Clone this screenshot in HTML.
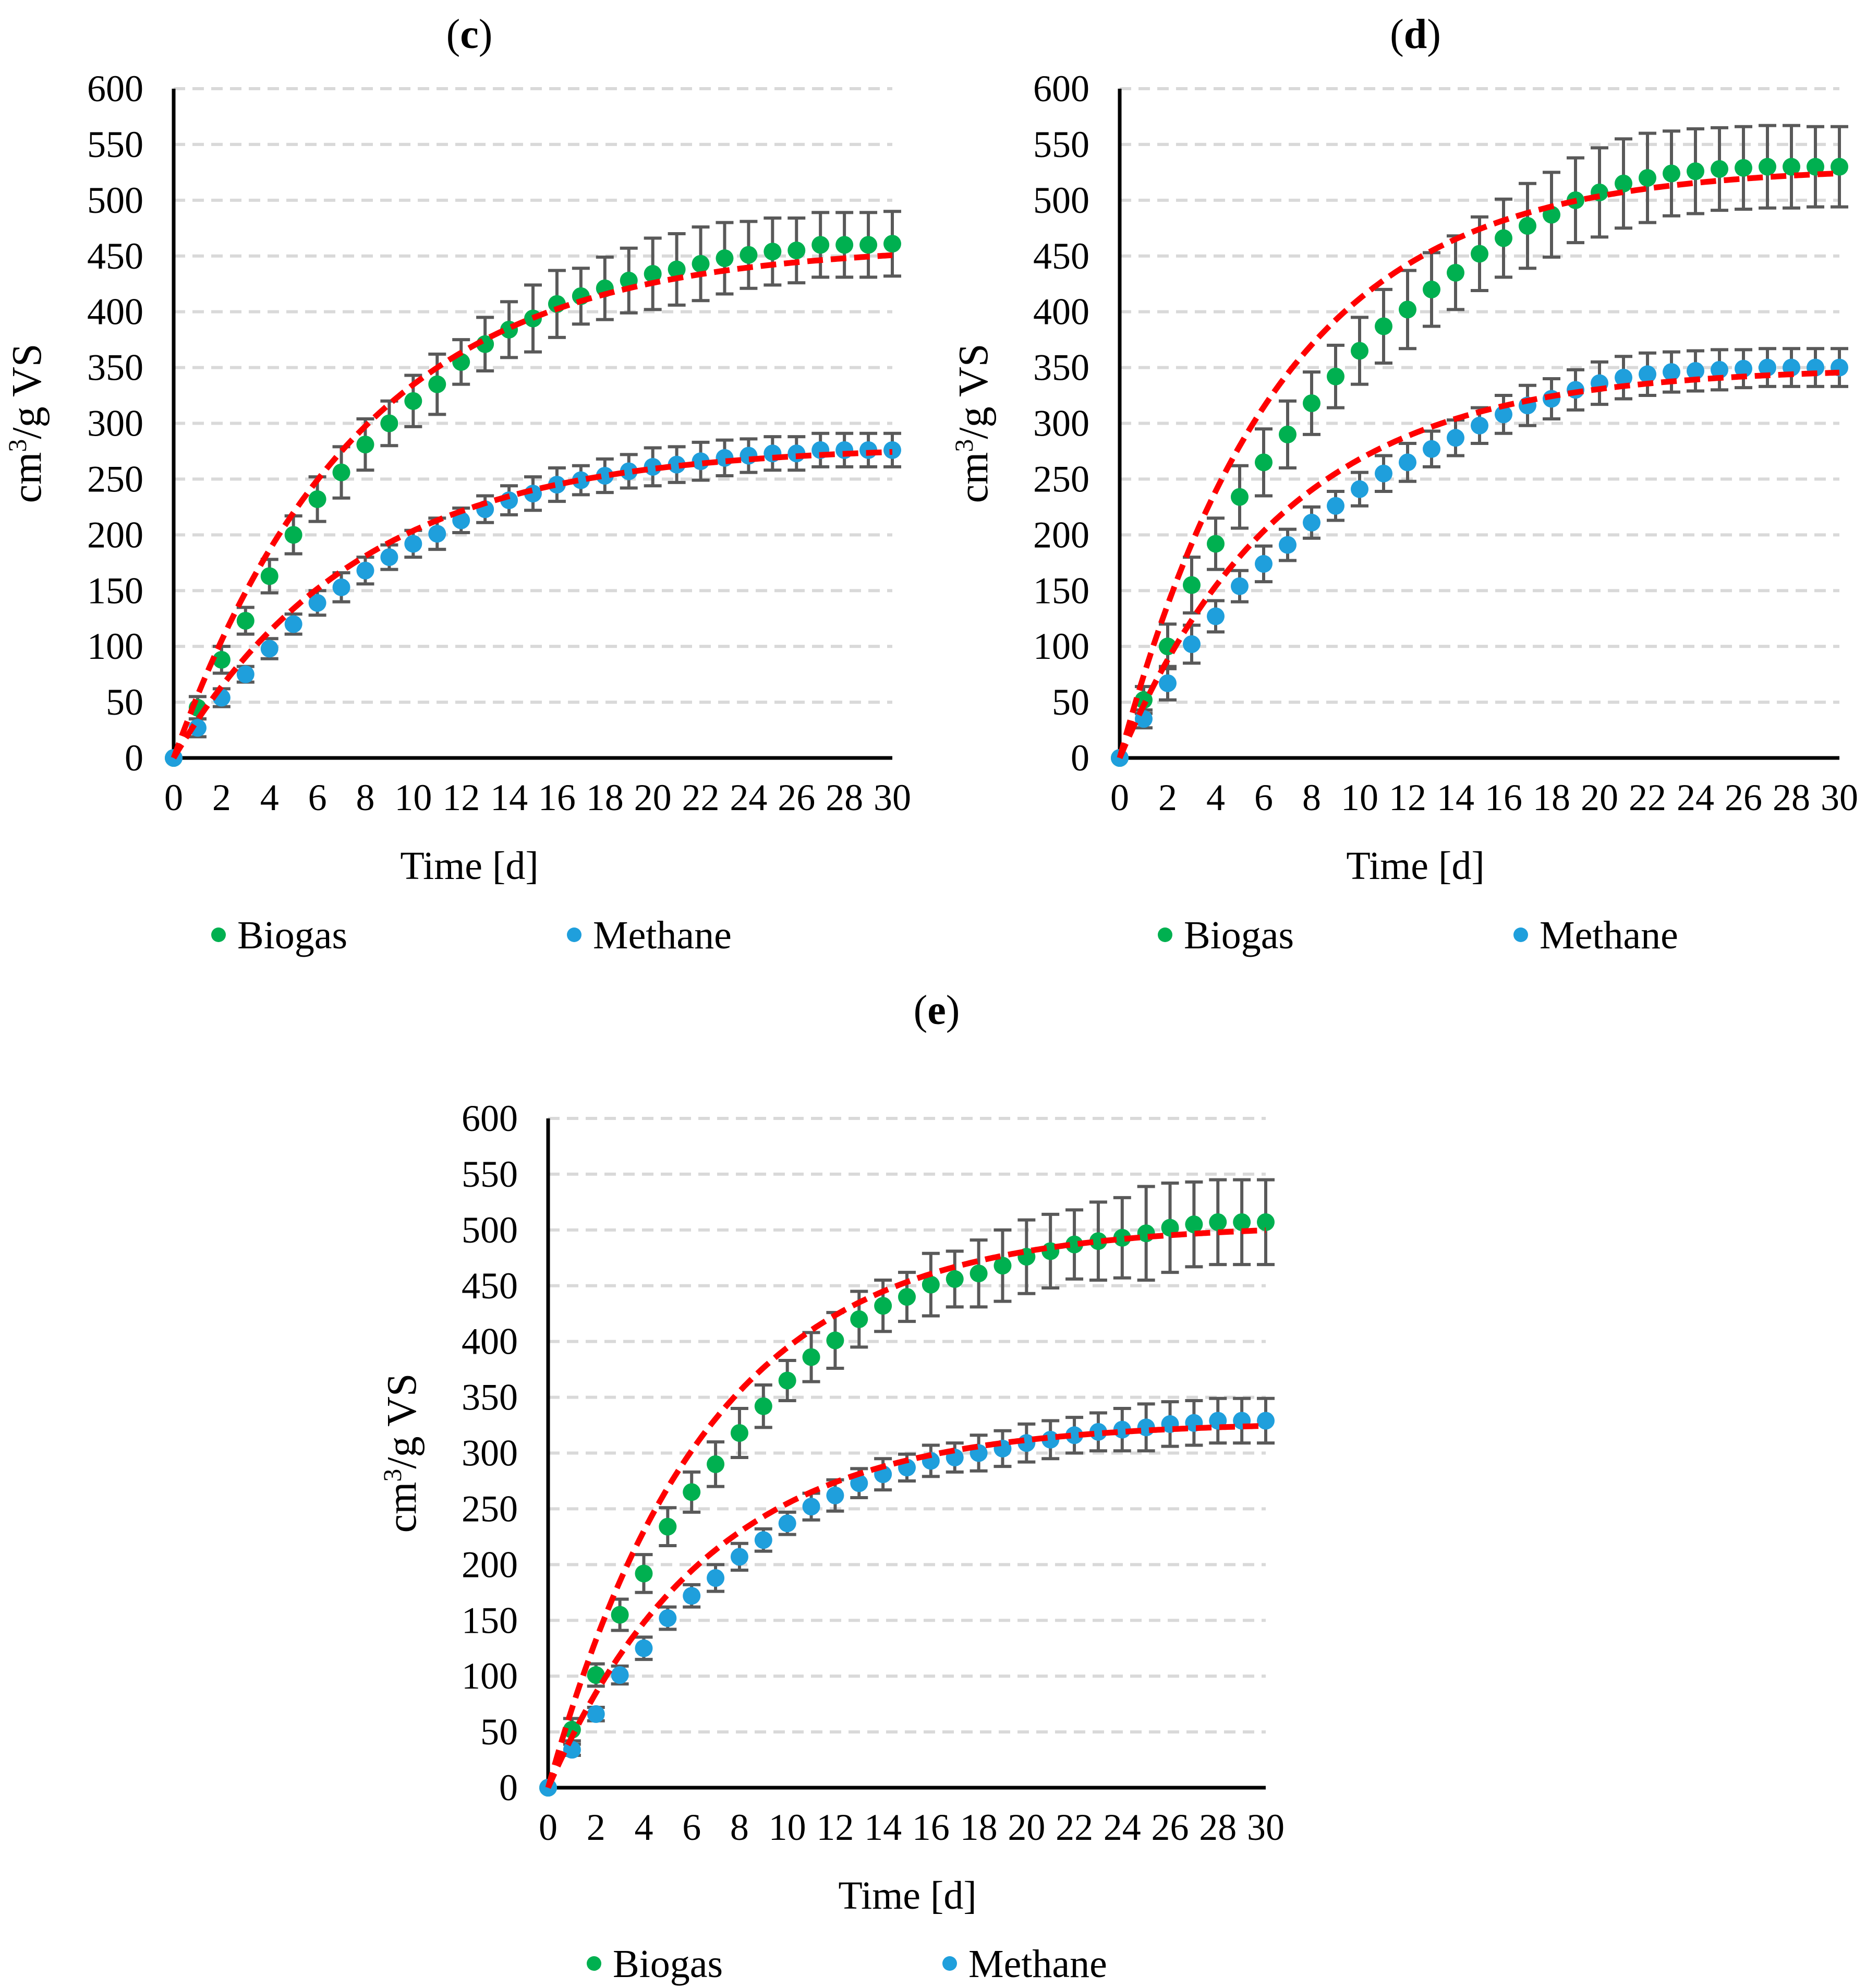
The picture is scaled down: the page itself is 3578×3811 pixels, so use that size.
<!DOCTYPE html>
<html><head><meta charset="utf-8"><style>
html,body{margin:0;padding:0;background:#fff}
svg{display:block;font-family:"Liberation Serif",serif}
</style></head><body>
<svg id="fig" width="3578" height="3811" viewBox="0 0 3578 3811" xmlns="http://www.w3.org/2000/svg"></svg>
<script>
const days=[0,1,2,3,4,5,6,7,8,9,10,11,12,13,14,15,16,17,18,19,20,21,22,23,24,25,26,27,28,29,30];
const yTicks=[0,50,100,150,200,250,300,350,400,450,500,550,600];
const xTicks=[0,2,4,6,8,10,12,14,16,18,20,22,24,26,28,30];
const cBiogas=[0,45,88,123,163,200,232,256,281,300,320,335,355,371,384,394,407,414,421,428,434,438,443,448,451,454,455,460,460,460,461];
const cBiogasErr=[0,10,12,12,15,17,20,23,23,20,23,27,20,24,25,30,30,25,28,29,32,32,33,32,30,30,29,29,29,29,29];
const cMethane=[0,27,54,75,98,120,139,153,168,180,192,201,213,223,231,237,245,249,253,257,261,263,266,269,271,273,273,276,276,276,276];
const cMethaneErr=[0,8,8,7,9,9,11,13,12,11,12,14,11,12,13,15,15,13,15,15,17,16,17,16,15,15,15,15,15,15,15];
const dBiogas=[0,52,100,155,192,234,265,290,318,342,365,387,402,420,435,452,466,477,487,500,507,515,520,524,526,528,529,530,530,530,530];
const dBiogasErr=[0,12,20,25,23,28,30,30,28,28,30,33,35,33,33,33,35,38,38,38,40,40,40,38,38,37,37,37,37,36,36];
const dMethane=[0,35,67,102,127,154,174,191,211,226,241,255,265,277,287,298,308,316,322,330,336,341,344,346,347,348,349,350,350,350,350];
const dMethaneErr=[0,8,15,17,14,14,16,14,14,13,15,16,17,16,16,16,17,18,18,18,19,19,19,18,18,18,17,17,17,17,17];
const eBiogas=[0,52,101,155,192,234,265,290,318,342,365,386,401,420,432,440,451,456,461,468,476,481,487,490,493,497,502,505,507,507,507];
const eBiogasErr=[0,10,10,14,17,17,18,20,22,19,18,22,25,25,23,22,28,25,30,32,33,33,31,35,36,42,40,38,38,38,38];
const eMethane=[0,34,66,101,125,152,172,188,207,222,237,252,262,273,281,287,293,296,300,304,309,312,316,319,321,323,326,327,329,329,329];
const eMethaneErr=[0,5,6,8,10,10,10,12,12,10,10,12,14,13,14,12,14,13,16,16,17,17,16,17,19,21,20,20,20,20,20];
// first-order fit params [ymax, k]
const cFitBiogas=[460,0.13], cFitMethane=[280,0.13];
const dFitBiogas=[530,0.15], dFitMethane=[350,0.145];
const eFitBiogas=[505,0.152], eFitMethane=[328,0.15];

const NS="http://www.w3.org/2000/svg";
const svg=document.getElementById('fig');
function mk(tag,attrs,parent,txt){const e=document.createElementNS(NS,tag);for(const k in attrs)e.setAttribute(k,attrs[k]);if(txt!==undefined)e.textContent=txt;(parent||svg).appendChild(e);return e;}

function chart(id,label,x0,x1,y0,y1,bio,bioErr,met,metErr,fb,fm,titleX,titleY,legY,legX,xTitleX,yTitleX){
  const g=mk('g',{});
  
  
  const X=v=>x0+(v-0)/30*(x1-x0);
  const Y=v=>y0-(v/600)*(y0-y1);
  const t=mk('text',{x:titleX,y:titleY,'text-anchor':'middle','font-size':80},g);
  t.innerHTML='(<tspan font-weight="bold">'+label+'</tspan>)';
  
  
  yTicks.forEach(v=>{
    if(v>0){const l=mk('line',{x1:x0,x2:x1,y1:Y(v),y2:Y(v),stroke:'#d9d9d9','stroke-width':6,'stroke-dasharray':'22 14'},g);
    
    }
    const tx=mk('text',{x:x0-58,y:Y(v)+24,'text-anchor':'end','font-size':72},g,String(v));
    
    
  });
  xTicks.forEach(v=>{
    const tx=mk('text',{x:X(v),y:y0+100,'text-anchor':'middle','font-size':72},g,String(v));
    
    
  });
  const ax=mk('path',{d:`M${x0},${y1} L${x0},${y0} L${x1},${y0}`,fill:'none',stroke:'#000','stroke-width':7},g);
  
  
  const yl=mk('text',{transform:`translate(${yTitleX},${(y0+y1)/2}) rotate(-90)`,'text-anchor':'middle','font-size':80},g);
  yl.innerHTML='cm<tspan baseline-shift="super" font-size="50">3</tspan>/g VS';
  
  
  const xl=mk('text',{x:xTitleX,y:y0+232,'text-anchor':'middle','font-size':76},g,'Time [d]');
  
  
  [[bio,bioErr],[met,metErr]].forEach(([vals,errs])=>{
    days.forEach((d,i)=>{
      if(!errs[i])return;
      const x=X(d),a=Y(vals[i]+errs[i]),b=Y(vals[i]-errs[i]);
      const e=mk('path',{d:`M${x},${a}L${x},${b}M${x-17},${a}L${x+17},${a}M${x-17},${b}L${x+17},${b}`,stroke:'#595959','stroke-width':6,fill:'none'},g);
      
      
    });
  });
  [[bio,'#00b050','biogas-point'],[met,'#1f9fdc','methane-point']].forEach(([vals,col,nm])=>{
    days.forEach((d,i)=>{
      const c=mk('circle',{cx:X(d),cy:Y(vals[i]),r:17,fill:col},g);
      
      
    });
  });
  [[fb,'biogas-fit-line'],[fm,'methane-fit-line']].forEach(([p,nm])=>{
    let d='';
    for(let s=0;s<=300;s++){const tt=s/10;const v=p[0]*(1-Math.exp(-p[1]*tt));d+=(s?'L':'M')+X(tt).toFixed(1)+','+Y(v).toFixed(1);}
    const l=mk('path',{d,fill:'none',stroke:'#ff0000','stroke-width':11,'stroke-dasharray':'30 15'},g);
    
    
  });
  const lg1=mk('circle',{cx:legX,cy:legY-20,r:14,fill:'#00b050'},g);
  
  
  const lt1=mk('text',{x:legX+36,y:legY+6,'font-size':76},g,'Biogas');
  
  
  const lg2=mk('circle',{cx:legX+682,cy:legY-20,r:14,fill:'#1f9fdc'},g);
  
  
  const lt2=mk('text',{x:legX+718,y:legY+6,'font-size':76},g,'Methane');
  
  
}
chart('c','c',333,1711,1453,170,cBiogas,cBiogasErr,cMethane,cMethaneErr,cFitBiogas,cFitMethane,900,92,1812,419,900,78);
chart('d','d',2147,3527,1453,170,dBiogas,dBiogasErr,dMethane,dMethaneErr,dFitBiogas,dFitMethane,2714,92,1812,2234,2714,1893);
chart('e','e',1051,2427,3427,2144,eBiogas,eBiogasErr,eMethane,eMethaneErr,eFitBiogas,eFitMethane,1796,1963,3784,1139,1740,797);
</script>
</body></html>
